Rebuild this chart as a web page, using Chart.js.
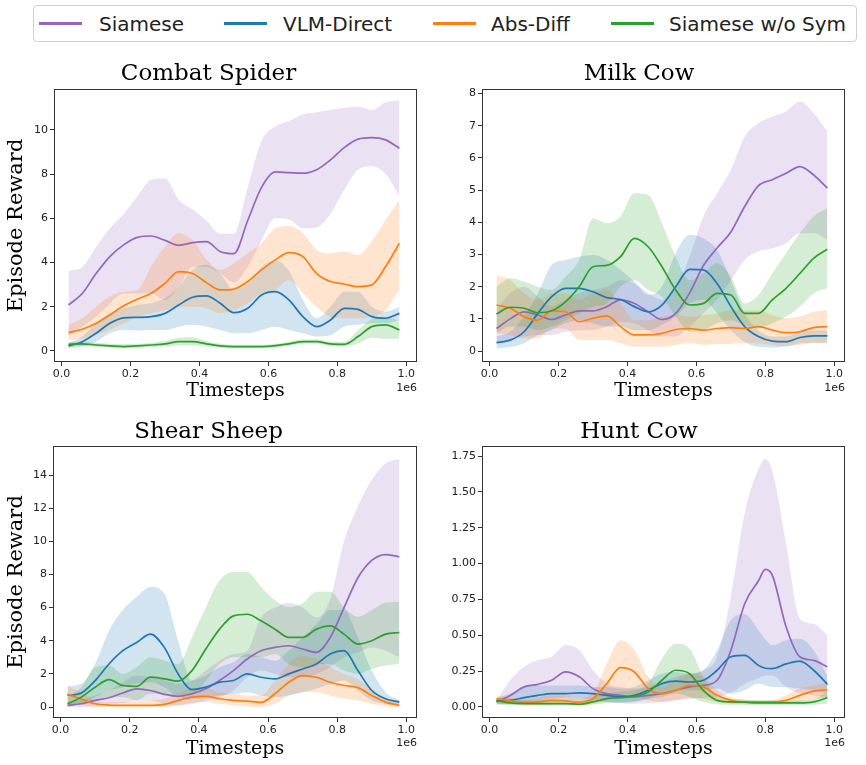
<!DOCTYPE html>
<html>
<head>
<meta charset="utf-8">
<script src="https://cdn.jsdelivr.net/npm/chart.js@4.4.1/dist/chart.umd.min.js"></script>
<style>
body { margin: 0; background: #fff; }
#page { position: relative; width: 866px; height: 765px; overflow: hidden; }
.panel { position: absolute; width: 433px; height: 355px; }
#legend { position: absolute; left: 33px; top: 5px; width: 822px; height: 35px; border: 1px solid #d0d0d0; border-radius: 4px; box-sizing: content-box; }
#legend .ln { position: absolute; top: 16px; width: 43px; height: 3px; }
#legend .tx { position: absolute; top: 3px; font-family: "DejaVu Sans"; font-size: 20px; line-height: 30px; color: #222; white-space: nowrap; }
</style>
</head>
<body>
<div id="page">
  <div id="legend"></div>
  <div class="panel" style="left:0px;top:50px"><canvas id="spiderChart"></canvas></div>
  <div class="panel" style="left:433px;top:50px"><canvas id="milkChart"></canvas></div>
  <div class="panel" style="left:0px;top:410px"><canvas id="sheepChart"></canvas></div>
  <div class="panel" style="left:433px;top:410px"><canvas id="huntChart"></canvas></div>
</div>
<script>
// timesteps (x 1e6)
const steps = [0.02, 0.06, 0.10, 0.14, 0.18, 0.22, 0.26, 0.30, 0.34, 0.38, 0.42, 0.46, 0.50,
               0.54, 0.58, 0.62, 0.66, 0.70, 0.74, 0.78, 0.82, 0.86, 0.90, 0.94, 0.98];
// hunt cow has a sharp peak at 0.8, so it gets one extra sample there
const huntSteps = [0.02, 0.06, 0.10, 0.14, 0.18, 0.22, 0.26, 0.30, 0.34, 0.38, 0.42, 0.46, 0.50,
                   0.54, 0.58, 0.62, 0.66, 0.70, 0.74, 0.78, 0.80, 0.82, 0.86, 0.90, 0.94, 0.98];
const methods = ['Siamese', 'VLM-Direct', 'Abs-Diff', 'Siamese w/o Sym'];
const xTicks = [0.0, 0.2, 0.4, 0.6, 0.8, 1.0];

// Combat Spider
const spiderSiamese   = [2.08, 2.6, 3.5, 4.27, 4.8, 5.14, 5.2, 5.0, 4.78, 4.9, 4.95, 4.5, 4.4, 5.9, 7.4, 8.1, 8.07, 8.04, 8.2, 8.64, 9.2, 9.58, 9.65, 9.55, 9.17];
const spiderSiameseHi = [3.63, 3.8, 4.7, 5.55, 6.2, 7.0, 7.74, 7.8, 6.83, 6.4, 5.9, 5.3, 5.3, 7.4, 9.5, 10.15, 10.4, 10.7, 10.8, 10.9, 11.0, 11.05, 10.9, 11.24, 11.33];
const spiderSiameseLo = [0.65, 1.1, 1.55, 2.15, 2.6, 2.6, 2.6, 2.3, 2.9, 3.8, 3.8, 3.5, 3.1, 3.8, 5.0, 6.0, 5.95, 5.55, 5.6, 6.2, 7.3, 8.2, 8.35, 8.0, 7.0];
const spiderVlm       = [0.23, 0.42, 0.8, 1.25, 1.5, 1.52, 1.55, 1.7, 2.08, 2.43, 2.49, 2.16, 1.73, 1.93, 2.53, 2.68, 2.3, 1.55, 1.1, 1.4, 1.93, 1.88, 1.55, 1.48, 1.7];
const spiderVlmHi     = [0.35, 0.65, 1.25, 1.7, 1.93, 2.08, 2.16, 2.38, 2.9, 3.67, 3.9, 3.5, 2.76, 3.06, 3.8, 4.1, 3.6, 2.3, 1.48, 2.0, 2.68, 2.68, 2.0, 1.78, 2.0];
const spiderVlmLo     = [0.12, 0.2, 0.42, 0.8, 0.95, 0.92, 0.95, 0.95, 1.1, 1.18, 1.1, 0.95, 0.8, 0.8, 0.95, 1.1, 0.95, 0.8, 0.65, 0.72, 1.1, 1.18, 1.25, 1.25, 1.4];
const spiderAbs       = [0.83, 0.98, 1.25, 1.63, 2.04, 2.34, 2.61, 3.06, 3.59, 3.5, 3.09, 2.76, 2.8, 3.14, 3.67, 4.12, 4.45, 4.27, 3.5, 3.14, 3.03, 2.91, 2.99, 3.82, 4.87];
const spiderAbsHi     = [1.18, 1.48, 2.0, 2.46, 2.68, 2.76, 3.82, 4.72, 5.32, 5.02, 4.12, 3.67, 3.97, 4.42, 4.87, 5.55, 5.65, 5.32, 4.57, 4.42, 4.5, 4.34, 4.95, 5.93, 6.83];
const spiderAbsLo     = [0.5, 0.57, 0.72, 0.95, 1.25, 1.55, 1.7, 1.85, 2.0, 2.0, 1.93, 1.7, 1.85, 2.16, 2.61, 2.76, 3.21, 2.61, 2.0, 1.55, 1.48, 1.48, 1.55, 1.85, 2.8];
const spiderNoSym     = [0.3, 0.32, 0.27, 0.23, 0.2, 0.23, 0.27, 0.32, 0.42, 0.42, 0.32, 0.23, 0.2, 0.2, 0.2, 0.24, 0.32, 0.42, 0.42, 0.32, 0.3, 0.65, 1.1, 1.18, 0.95];
const spiderNoSymHi   = [0.42, 0.42, 0.37, 0.32, 0.3, 0.32, 0.37, 0.45, 0.6, 0.62, 0.45, 0.32, 0.28, 0.28, 0.28, 0.32, 0.42, 0.52, 0.52, 0.42, 0.42, 0.95, 1.45, 1.55, 1.35];
const spiderNoSymLo   = [0.18, 0.22, 0.17, 0.14, 0.12, 0.14, 0.17, 0.2, 0.25, 0.25, 0.2, 0.14, 0.12, 0.12, 0.12, 0.16, 0.22, 0.32, 0.32, 0.22, 0.2, 0.35, 0.6, 0.55, 0.55];

// Milk Cow
const milkSiamese   = [0.7, 1.0, 1.22, 1.12, 0.98, 1.12, 1.25, 1.25, 1.38, 1.59, 1.48, 1.22, 0.98, 1.17, 1.8, 2.65, 3.2, 3.7, 4.49, 5.14, 5.32, 5.52, 5.73, 5.47, 5.06];
const milkSiameseHi = [1.27, 1.8, 2.0, 1.69, 1.38, 1.59, 1.8, 1.9, 2.0, 2.2, 2.1, 1.8, 1.59, 2.0, 2.93, 4.18, 4.9, 5.63, 6.66, 7.08, 7.28, 7.44, 7.75, 7.39, 6.82];
const milkSiameseLo = [0.24, 0.34, 0.45, 0.5, 0.5, 0.6, 0.65, 0.65, 0.76, 0.91, 0.86, 0.65, 0.45, 0.45, 0.76, 1.17, 1.59, 2.2, 2.83, 3.09, 3.19, 3.35, 3.66, 3.66, 3.45];
const milkVlm       = [0.26, 0.34, 0.6, 1.17, 1.69, 1.95, 1.95, 1.84, 1.66, 1.6, 1.38, 1.22, 1.43, 2.0, 2.54, 2.52, 2.1, 1.38, 0.76, 0.45, 0.31, 0.29, 0.42, 0.47, 0.47];
const milkVlmHi     = [0.45, 0.6, 1.07, 1.79, 2.67, 2.83, 2.93, 2.98, 2.83, 2.52, 2.16, 1.74, 2.0, 3.04, 3.61, 3.5, 3.14, 2.2, 1.17, 0.65, 0.45, 0.45, 0.6, 0.65, 0.65];
const milkVlmLo     = [0.08, 0.13, 0.24, 0.5, 0.65, 0.86, 0.96, 0.86, 0.76, 0.76, 0.65, 0.65, 0.81, 1.07, 1.48, 1.59, 1.17, 0.65, 0.29, 0.13, 0.11, 0.13, 0.24, 0.26, 0.26];
const milkAbs       = [1.43, 1.33, 1.07, 0.96, 1.25, 1.22, 0.91, 1.02, 1.09, 0.76, 0.5, 0.5, 0.55, 0.67, 0.7, 0.65, 0.7, 0.73, 0.7, 0.76, 0.65, 0.57, 0.6, 0.73, 0.76];
const milkAbsHi     = [2.36, 2.2, 1.79, 1.59, 1.79, 1.79, 1.59, 1.79, 1.9, 1.48, 0.96, 0.96, 1.07, 1.12, 1.07, 1.12, 1.17, 1.27, 1.27, 1.27, 1.12, 1.02, 1.07, 1.22, 1.27];
const milkAbsLo     = [0.55, 0.5, 0.39, 0.39, 0.7, 0.7, 0.34, 0.34, 0.34, 0.24, 0.13, 0.13, 0.13, 0.19, 0.24, 0.19, 0.22, 0.22, 0.24, 0.24, 0.19, 0.16, 0.19, 0.24, 0.24];
const milkNoSym     = [1.15, 1.36, 1.33, 1.19, 1.25, 1.53, 2.0, 2.62, 2.66, 2.93, 3.5, 3.24, 2.62, 1.9, 1.43, 1.48, 1.79, 1.74, 1.17, 1.17, 1.59, 1.95, 2.41, 2.88, 3.16];
const milkNoSymHi   = [2.0, 2.26, 2.16, 2.0, 1.9, 2.31, 2.83, 4.12, 3.97, 4.18, 4.9, 4.85, 3.97, 2.93, 2.2, 2.41, 2.73, 2.31, 1.48, 1.74, 2.41, 3.04, 3.66, 4.18, 4.44];
const milkNoSymLo   = [0.55, 0.76, 0.76, 0.65, 0.76, 0.96, 1.17, 1.38, 1.48, 2.0, 2.2, 1.9, 1.69, 1.07, 0.6, 0.65, 0.86, 0.96, 0.81, 0.7, 0.86, 1.07, 1.38, 1.79, 1.95];

// Shear Sheep
const sheepSiamese   = [0.1, 0.2, 0.4, 0.56, 0.85, 1.1, 1.0, 0.77, 0.65, 0.8, 1.1, 1.6, 2.2, 2.9, 3.4, 3.6, 3.7, 3.5, 3.3, 4.2, 6.0, 7.8, 8.85, 9.2, 9.07];
const sheepSiameseHi = [0.3, 0.44, 0.7, 1.0, 1.5, 1.9, 1.8, 1.6, 1.4, 1.6, 2.2, 2.8, 3.2, 3.4, 5.4, 6.0, 6.3, 6.0, 5.4, 6.5, 10.0, 12.1, 13.7, 14.7, 14.97];
const sheepSiameseLo = [0.0, 0.0, 0.1, 0.2, 0.24, 0.4, 0.4, 0.2, 0.1, 0.2, 0.4, 0.6, 1.0, 1.8, 2.2, 2.0, 1.8, 1.8, 2.0, 2.4, 3.0, 3.3, 3.6, 3.4, 3.0];
const sheepVlm       = [0.7, 0.85, 1.6, 2.6, 3.4, 3.9, 4.4, 3.6, 2.0, 1.05, 1.2, 1.5, 1.6, 2.0, 1.8, 1.7, 2.0, 2.3, 2.6, 3.2, 3.4, 2.2, 1.0, 0.5, 0.3];
const sheepVlmHi     = [1.25, 1.4, 2.6, 4.6, 5.85, 6.65, 7.25, 6.85, 4.0, 1.6, 1.9, 2.4, 2.7, 3.2, 3.0, 2.8, 3.4, 4.2, 5.0, 5.85, 5.85, 4.2, 2.2, 0.9, 0.4];
const sheepVlmLo     = [0.1, 0.2, 0.6, 1.0, 1.2, 1.4, 1.5, 1.2, 0.6, 0.5, 0.6, 0.7, 0.8, 0.9, 0.7, 0.6, 0.7, 0.9, 1.1, 1.4, 1.6, 1.0, 0.4, 0.2, 0.1];
const sheepAbs       = [0.77, 0.48, 0.2, 0.12, 0.1, 0.1, 0.1, 0.16, 0.4, 0.6, 0.65, 0.5, 0.4, 0.36, 0.28, 0.8, 1.5, 1.9, 1.8, 1.5, 1.3, 1.17, 0.7, 0.3, 0.1];
const sheepAbsHi     = [1.25, 0.9, 0.4, 0.3, 0.3, 0.36, 0.4, 0.5, 0.8, 1.1, 1.1, 0.9, 0.8, 0.7, 0.7, 1.6, 2.6, 3.1, 2.9, 2.4, 2.0, 1.7, 1.1, 0.5, 0.24];
const sheepAbsLo     = [0.2, 0.1, 0.0, 0.0, 0.0, 0.0, 0.0, 0.0, 0.1, 0.24, 0.3, 0.2, 0.1, 0.04, 0.0, 0.2, 0.7, 0.9, 0.9, 0.7, 0.5, 0.4, 0.2, 0.04, 0.0];
const sheepNoSym     = [0.2, 0.6, 1.2, 1.65, 1.3, 1.25, 1.8, 1.7, 1.57, 2.2, 3.5, 4.7, 5.5, 5.6, 5.2, 4.7, 4.2, 4.2, 4.7, 4.9, 4.4, 3.8, 4.0, 4.4, 4.5];
const sheepNoSymHi   = [0.6, 1.2, 2.4, 2.5, 2.0, 2.4, 3.0, 2.8, 2.6, 4.2, 6.0, 7.65, 8.15, 8.15, 7.25, 6.45, 6.05, 6.25, 6.95, 6.95, 6.0, 5.45, 5.85, 6.3, 6.35];
const sheepNoSymLo   = [0.0, 0.2, 0.4, 0.6, 0.6, 0.4, 0.8, 0.8, 0.7, 0.7, 1.6, 2.6, 3.0, 3.0, 3.0, 3.2, 2.6, 2.4, 2.6, 2.6, 2.2, 2.0, 2.3, 2.5, 2.6];

// Hunt Cow (on huntSteps)
const huntSiamese   = [0.035, 0.08, 0.14, 0.158, 0.186, 0.244, 0.21, 0.128, 0.093, 0.081, 0.07, 0.081, 0.093, 0.116, 0.14, 0.15, 0.186, 0.395, 0.72, 0.88, 0.96, 0.92, 0.56, 0.35, 0.325, 0.28];
const huntSiameseHi = [0.046, 0.186, 0.28, 0.325, 0.35, 0.43, 0.395, 0.256, 0.163, 0.14, 0.128, 0.14, 0.174, 0.21, 0.232, 0.256, 0.35, 0.77, 1.35, 1.66, 1.73, 1.65, 1.14, 0.616, 0.58, 0.5];
const huntSiameseLo = [0.012, 0.023, 0.035, 0.046, 0.058, 0.07, 0.065, 0.046, 0.035, 0.028, 0.023, 0.028, 0.035, 0.046, 0.058, 0.065, 0.07, 0.1, 0.16, 0.2, 0.22, 0.22, 0.14, 0.093, 0.08, 0.07];
const huntVlm       = [0.042, 0.046, 0.065, 0.081, 0.093, 0.093, 0.098, 0.093, 0.081, 0.07, 0.081, 0.116, 0.163, 0.18, 0.174, 0.186, 0.256, 0.35, 0.36, 0.29, 0.27, 0.267, 0.3, 0.32, 0.256, 0.158];
const huntVlmHi     = [0.058, 0.093, 0.14, 0.15, 0.15, 0.15, 0.15, 0.14, 0.14, 0.128, 0.14, 0.186, 0.232, 0.244, 0.232, 0.256, 0.395, 0.604, 0.646, 0.535, 0.47, 0.43, 0.465, 0.476, 0.395, 0.21];
const huntVlmLo     = [0.023, 0.019, 0.023, 0.028, 0.035, 0.046, 0.042, 0.042, 0.035, 0.028, 0.035, 0.058, 0.093, 0.116, 0.116, 0.116, 0.128, 0.093, 0.116, 0.163, 0.15, 0.14, 0.14, 0.128, 0.116, 0.093];
const huntAbs       = [0.058, 0.042, 0.033, 0.035, 0.046, 0.042, 0.033, 0.058, 0.163, 0.274, 0.244, 0.128, 0.093, 0.116, 0.15, 0.14, 0.081, 0.046, 0.035, 0.035, 0.035, 0.035, 0.046, 0.081, 0.11, 0.12];
const huntAbsHi     = [0.081, 0.065, 0.058, 0.065, 0.081, 0.074, 0.065, 0.1, 0.3, 0.465, 0.395, 0.21, 0.14, 0.186, 0.232, 0.21, 0.116, 0.065, 0.05, 0.046, 0.046, 0.046, 0.081, 0.128, 0.15, 0.163];
const huntAbsLo     = [0.028, 0.019, 0.012, 0.012, 0.015, 0.015, 0.012, 0.023, 0.046, 0.093, 0.081, 0.046, 0.035, 0.046, 0.065, 0.058, 0.035, 0.023, 0.019, 0.019, 0.019, 0.019, 0.023, 0.035, 0.058, 0.07];
const huntNoSym     = [0.046, 0.028, 0.023, 0.023, 0.023, 0.023, 0.019, 0.035, 0.058, 0.065, 0.074, 0.105, 0.186, 0.256, 0.232, 0.116, 0.046, 0.035, 0.033, 0.028, 0.028, 0.028, 0.028, 0.028, 0.035, 0.065];
const huntNoSymHi   = [0.065, 0.05, 0.046, 0.046, 0.046, 0.046, 0.042, 0.065, 0.093, 0.105, 0.116, 0.163, 0.337, 0.44, 0.407, 0.21, 0.074, 0.058, 0.05, 0.046, 0.046, 0.046, 0.046, 0.046, 0.058, 0.105];
const huntNoSymLo   = [0.023, 0.012, 0.01, 0.01, 0.01, 0.01, 0.012, 0.015, 0.028, 0.035, 0.042, 0.058, 0.07, 0.093, 0.07, 0.035, 0.019, 0.015, 0.015, 0.012, 0.012, 0.012, 0.012, 0.012, 0.015, 0.023];

const lineColors = ['#9467bd', '#1f77b4', '#ff7f0e', '#2ca02c'];
const bandColors = ['rgba(148,103,189,0.2)', 'rgba(31,119,180,0.2)', 'rgba(255,127,14,0.2)', 'rgba(44,160,44,0.2)'];

// legend (shared, above the grid)
const legendLineX = [5, 190, 399, 577];
const legendTextX = [65, 249, 457, 635];
const legend = document.getElementById('legend');
methods.forEach(function(name, i) {
    const ln = document.createElement('div');
    ln.className = 'ln';
    ln.style.left = legendLineX[i] + 'px';
    ln.style.background = lineColors[i];
    legend.appendChild(ln);
    const tx = document.createElement('div');
    tx.className = 'tx';
    tx.style.left = legendTextX[i] + 'px';
    tx.textContent = name;
    legend.appendChild(tx);
});

function pts(xs, arr) {
    return xs.map(function(x, k) { return { x: x, y: arr[k] }; });
}

// series = [[mean, lo, hi], ...] in method order
function buildDatasets(xs, series) {
    const sets = [];
    series.forEach(function(s, i) {
        sets.push({ label: methods[i] + ' lo', data: pts(xs, s[1]), borderWidth: 0, pointRadius: 0,
                    fill: false, cubicInterpolationMode: 'monotone', order: 13 - i });
        sets.push({ label: methods[i] + ' hi', data: pts(xs, s[2]), borderWidth: 0, pointRadius: 0,
                    fill: '-1', backgroundColor: bandColors[i], cubicInterpolationMode: 'monotone', order: 13 - i });
    });
    series.forEach(function(s, i) {
        sets.push({ label: methods[i], data: pts(xs, s[0]), borderColor: lineColors[i], borderWidth: 1.7,
                    pointRadius: 0, fill: false, cubicInterpolationMode: 'monotone', order: 3 - i });
    });
    return sets;
}

const framePlugin = {
    id: 'frame',
    afterDraw(chart, args, opts) {
        const a = chart.chartArea;
        const c = chart.ctx;
        c.save();
        c.strokeStyle = '#333';
        c.lineWidth = 1;
        c.strokeRect(a.left + 0.5, a.top + 0.5, a.right - a.left - 1, a.bottom - a.top - 1);
        c.font = '11px "DejaVu Sans"';
        c.fillStyle = '#222';
        c.textAlign = 'right';
        c.textBaseline = 'middle';
        c.fillText('1e6', a.right, a.bottom + opts.expOffset);
        c.restore();
    }
};

function makePanel(id, title, xs, series, y, geo) {
    const ctx = document.getElementById(id).getContext('2d');
    return new Chart(ctx, {
        type: 'line',
        data: { datasets: buildDatasets(xs, series) },
        plugins: [framePlugin],
        options: {
            responsive: true,
            maintainAspectRatio: false,
            animation: false,
            events: [],
            layout: { padding: { left: 0, right: geo.right, top: 0, bottom: 0 } },
            plugins: {
                legend: { display: false },
                tooltip: { enabled: false },
                title: {
                    display: true, text: title, color: '#000',
                    font: { family: 'DejaVu Serif', size: 23, weight: 'normal' },
                    padding: { top: geo.titleTop, bottom: geo.titleBottom }
                },
                frame: { expOffset: geo.expOffset }
            },
            scales: {
                x: {
                    type: 'linear', min: -0.022, max: 1.031,
                    afterBuildTicks: function(s) { s.ticks = xTicks.map(function(v) { return { value: v }; }); },
                    ticks: { callback: function(v) { return v.toFixed(1); }, color: '#222', padding: 2,
                             maxRotation: 0, autoSkip: false, font: { family: 'DejaVu Sans', size: 11 } },
                    grid: { drawOnChartArea: false, drawTicks: true, tickLength: 4, color: '#333' },
                    border: { display: false },
                    title: { display: true, text: 'Timesteps', color: '#000',
                             font: { family: 'DejaVu Serif', size: 19 }, padding: { top: 0, bottom: geo.xTitleBottom } },
                    afterFit: function(s) { s.height = geo.xHeight; }
                },
                y: {
                    type: 'linear', min: y.min, max: y.max,
                    afterBuildTicks: function(s) { s.ticks = y.ticks.map(function(v) { return { value: v }; }); },
                    ticks: { callback: function(v) { return v.toFixed(y.digits); }, color: '#222', padding: 2,
                             autoSkip: false, font: { family: 'DejaVu Sans', size: 11 } },
                    grid: { drawOnChartArea: false, drawTicks: true, tickLength: 4, color: '#333' },
                    border: { display: false },
                    title: { display: geo.yTitle, text: 'Episode Reward', color: '#000',
                             font: { family: 'DejaVu Serif', size: 21 }, padding: { top: 4, bottom: 0 } },
                    afterFit: function(s) { s.width = geo.yWidth; }
                }
            }
        }
    });
}

const topLeft  = { right: 16, yWidth: 54, yTitle: true,  titleTop: 10.5, titleBottom: 0.9, xHeight: 43, xTitleBottom: 2.6, expOffset: 26 };
const topRight = { right: 21, yWidth: 49, yTitle: false, titleTop: 10.5, titleBottom: 0.9, xHeight: 43, xTitleBottom: 2.6, expOffset: 26 };
const botLeft  = { right: 16, yWidth: 53, yTitle: true,  titleTop: 8.2, titleBottom: 0.2, xHeight: 47, xTitleBottom: 5.0, expOffset: 25 };
const botRight = { right: 21, yWidth: 49, yTitle: false, titleTop: 8.2, titleBottom: 0.2, xHeight: 47, xTitleBottom: 5.0, expOffset: 25 };

makePanel('spiderChart', 'Combat Spider', steps, [
    [spiderSiamese, spiderSiameseLo, spiderSiameseHi],
    [spiderVlm, spiderVlmLo, spiderVlmHi],
    [spiderAbs, spiderAbsLo, spiderAbsHi],
    [spiderNoSym, spiderNoSymLo, spiderNoSymHi]
], { min: -0.5, max: 11.85, ticks: [0, 2, 4, 6, 8, 10], digits: 0 }, topLeft);

makePanel('milkChart', 'Milk Cow', steps, [
    [milkSiamese, milkSiameseLo, milkSiameseHi],
    [milkVlm, milkVlmLo, milkVlmHi],
    [milkAbs, milkAbsLo, milkAbsHi],
    [milkNoSym, milkNoSymLo, milkNoSymHi]
], { min: -0.34, max: 8.14, ticks: [0, 1, 2, 3, 4, 5, 6, 7, 8], digits: 0 }, topRight);

makePanel('sheepChart', 'Shear Sheep', steps, [
    [sheepSiamese, sheepSiameseLo, sheepSiameseHi],
    [sheepVlm, sheepVlmLo, sheepVlmHi],
    [sheepAbs, sheepAbsLo, sheepAbsHi],
    [sheepNoSym, sheepNoSymLo, sheepNoSymHi]
], { min: -0.66, max: 15.75, ticks: [0, 2, 4, 6, 8, 10, 12, 14], digits: 0 }, botLeft);

makePanel('huntChart', 'Hunt Cow', huntSteps, [
    [huntSiamese, huntSiameseLo, huntSiameseHi],
    [huntVlm, huntVlmLo, huntVlmHi],
    [huntAbs, huntAbsLo, huntAbsHi],
    [huntNoSym, huntNoSymLo, huntNoSymHi]
], { min: -0.077, max: 1.82, ticks: [0, 0.25, 0.5, 0.75, 1.0, 1.25, 1.5, 1.75], digits: 2 }, botRight);
</script>
</body>
</html>
